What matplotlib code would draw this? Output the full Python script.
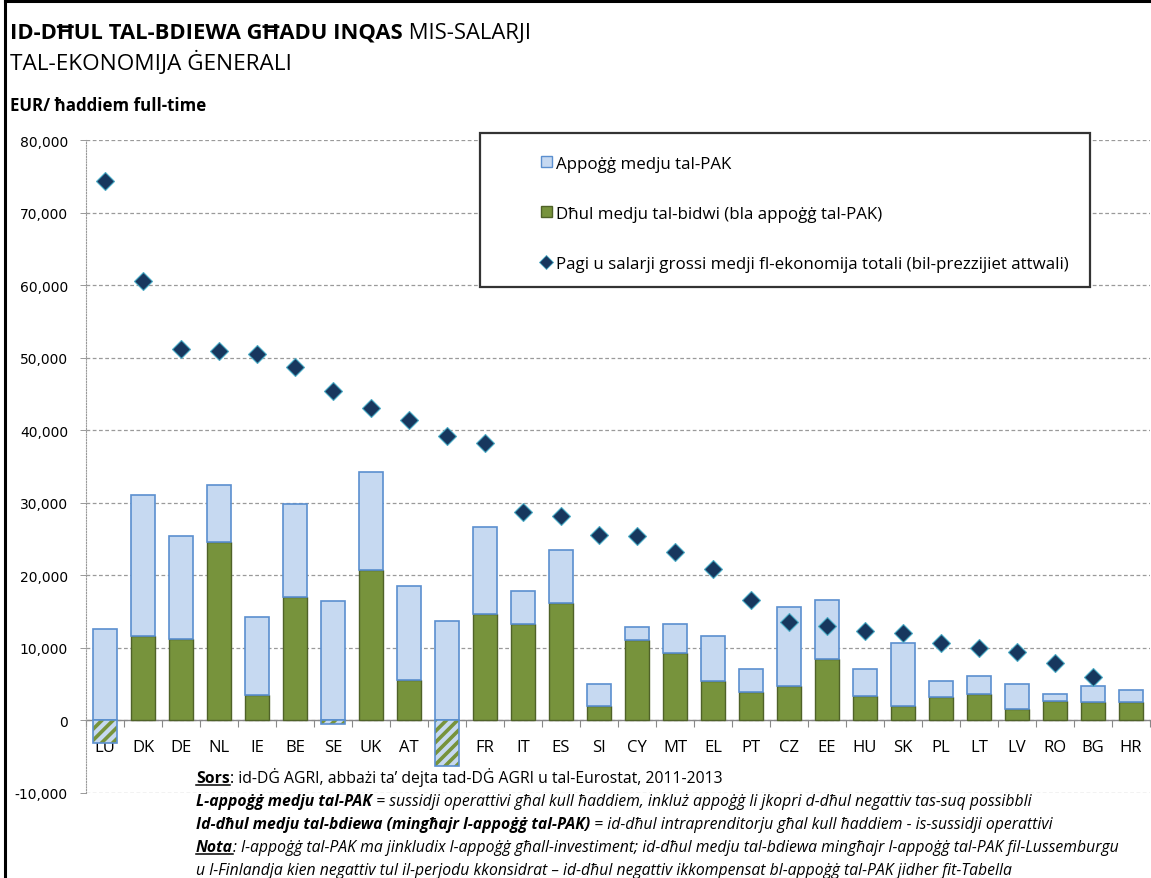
import numpy as np
import matplotlib
matplotlib.use("Agg")
import matplotlib.pyplot as plt
from matplotlib.patches import Patch, Rectangle
from matplotlib.lines import Line2D

countries = ["LU", "DK", "DE", "NL", "IE", "BE", "SE", "UK", "AT", "FI", "FR", "IT", "ES", "SI",
             "CY", "MT", "EL", "PT", "CZ", "EE", "HU", "SK", "PL", "LT", "LV", "RO", "BG", "HR"]

# average farm income without CAP support (EUR / full-time worker)
farm_income = [-3100, 11580, 11220, 24590, 3500, 17070, -500, 20730, 5650, -6300, 14710, 13370,
               16180, 1930, 11120, 9330, 5430, 3910, 4780, 8500, 3310, 2030, 3170, 3590, 1610,
               2720, 2480, 2580]

# average CAP support (EUR / full-time worker)
cap_support = [12640, 19490, 14280, 7940, 10830, 12840, 16460, 13590, 12960, 13650, 12030, 4550,
               7390, 3130, 1750, 4040, 6150, 3220, 10850, 8140, 3720, 8590, 2260, 2610, 3400,
               920, 2210, 1560]

# average gross wages and salaries in the whole economy (None = no value)
wages = [74400, 60570, 51230, 51000, 50550, 48750, 45450, 43060, 41450, 39200, 38320, 28810,
         28260, 25600, 25500, 23210, 20910, 16640, 13560, 12960, 12270, 12040, 10710, 10060,
         9420, 7910, 5930, None]

legend_labels = ["Appoġġ medju tal-PAK",
                 "Dħul medju tal-bidwi (bla appoġġ tal-PAK)",
                 "Pagi u salarji grossi medji fl-ekonomija totali (bil-prezzijiet attwali)"]

BLUE_FILL = "#C6D9F1"
BLUE_EDGE = "#5B8FCF"
GREEN = "#77933C"
GREEN_EDGE = "#4F6228"
NAVY = "#17375E"
CYAN = "#4BACC6"
FONT = ["Open Sans", "DejaVu Sans"]

plt.rcParams["hatch.linewidth"] = 2.6

W, H = 1151, 879
fig = plt.figure(figsize=(W / 100, H / 100), dpi=100)
ax = fig.add_axes([86 / W, 1 - 794 / H, (1150 - 86) / W, (794 - 141.3) / H])

x = np.arange(len(countries))
income = np.array(farm_income, dtype=float)
support = np.array(cap_support, dtype=float)
pos_income = np.clip(income, 0, None)
neg_income = np.clip(income, None, 0)
bw = 0.63

# green: positive farm income
ax.bar(x, pos_income, bw, color=GREEN, edgecolor=GREEN_EDGE, linewidth=1.0, zorder=3)
# blue: CAP support stacked on top
ax.bar(x, support, bw, bottom=pos_income, color=BLUE_FILL, edgecolor=BLUE_EDGE, linewidth=1.2, zorder=3)
# negative income: hatched
neg = income < 0
ax.bar(x[neg], neg_income[neg], bw, color=BLUE_FILL, edgecolor=GREEN, hatch="///", linewidth=0, zorder=3)
ax.bar(x[neg], neg_income[neg], bw, fill=False, edgecolor=BLUE_EDGE, linewidth=1.2, zorder=4)

wx = [i for i, w in enumerate(wages) if w is not None]
wy = [w for w in wages if w is not None]
ax.plot(wx, wy, linestyle="none", marker="D", markersize=9, markerfacecolor=NAVY,
        markeredgecolor=CYAN, markeredgewidth=0.8, zorder=5)

ax.set_xlim(-0.5, len(countries) - 0.5)
ax.set_ylim(-10000, 80000)
ax.set_yticks(np.arange(-10000, 80001, 10000))
ax.set_yticklabels([f"{v:,.0f}" for v in np.arange(-10000, 80001, 10000)], fontsize=10,
                   family="DejaVu Sans")
ax.yaxis.grid(True, color="#9a9a9a", linestyle=(0, (3, 2)), linewidth=0.9, zorder=0)
ax.set_axisbelow(True)
ax.tick_params(axis="y", length=4, width=0.6, color="#888888", pad=9)

ax.spines["bottom"].set_position(("data", 0))
ax.spines["bottom"].set_color("#888888")
ax.spines["bottom"].set_linewidth(1.0)
ax.spines["bottom"].set_zorder(2)
ax.spines["left"].set_color("#999999")
ax.spines["left"].set_linestyle((0, (1, 1.5)))
ax.spines["left"].set_linewidth(0.8)
ax.spines["top"].set_visible(False)
ax.spines["right"].set_visible(False)

ax.set_xticks(x)
ax.set_xticklabels(countries, fontsize=12, family=FONT)
ax.set_xticks(np.arange(-0.5, len(countries), 1), minor=True)
ax.tick_params(axis="x", which="major", length=0, pad=13)
ax.tick_params(axis="x", which="minor", length=5, width=0.8, color="#888888")

# legend
fig.add_artist(Rectangle((480 / W, 1 - 288 / H), 610 / W, 154 / H, transform=fig.transFigure,
                         facecolor="white", edgecolor="#333333", linewidth=1.6, zorder=6))
handles = [Patch(facecolor=BLUE_FILL, edgecolor=BLUE_EDGE, linewidth=1.0),
           Patch(facecolor=GREEN, edgecolor=GREEN_EDGE, linewidth=1.0),
           Line2D([], [], linestyle="none", marker="D", markersize=7, markerfacecolor=NAVY,
                  markeredgecolor=CYAN, markeredgewidth=0.6)]
leg = fig.legend(handles, legend_labels, loc="upper left", bbox_to_anchor=(534 / W, 1 - 150 / H),
                 frameon=False, prop={"family": FONT, "size": 12.2}, handlelength=0.65,
                 handleheight=0.65, handletextpad=0.25, labelspacing=2.0, borderaxespad=0)
leg.set_zorder(7)

# frame of the whole picture
fig.add_artist(Line2D([5 / W, 5 / W], [0, 1 - 2 / H], color="black", linewidth=2.2))
fig.add_artist(Line2D([5 / W, 1], [1 - 2 / H, 1 - 2 / H], color="black", linewidth=2.2))

renderer = fig.canvas.get_renderer()


def text_width(s, **kw):
    t = fig.text(0, 0, "|" + s + "|", **kw)
    t2 = fig.text(0, 0, "||", **kw)
    w = t.get_window_extent(renderer).width - t2.get_window_extent(renderer).width
    t.remove()
    t2.remove()
    return w / W


def put_parts(x0, y0, parts, size):
    xx = x0
    for s, weight, style, under in parts:
        kw = dict(fontsize=size, fontweight=weight, fontstyle=style, family=FONT)
        fig.text(xx, y0, s, va="baseline", ha="left", **kw)
        w = text_width(s, **kw)
        if under:
            fig.add_artist(Line2D([xx, xx + w], [y0 - 3 / H, y0 - 3 / H], color="black", linewidth=1.1))
        xx += w


put_parts(10 / W, 1 - 39 / H, [("ID-DĦUL TAL-BDIEWA GĦADU INQAS", "bold", "normal", False),
                              (" MIS-SALARJI", "normal", "normal", False)], 15.8)
put_parts(10 / W, 1 - 70 / H, [("TAL-EKONOMIJA ĠENERALI", "normal", "normal", False)], 16.2)
put_parts(10 / W, 1 - 111 / H, [("EUR/ ħaddiem full-time", "bold", "normal", False)], 12.2)

notes = [
    [("Sors", "bold", "normal", True),
     (": id-DĠ AGRI, abbażi ta’ dejta tad-DĠ AGRI u tal-Eurostat, 2011-2013", "normal", "normal", False)],
    [("L-appoġġ medju tal-PAK", "bold", "italic", False),
     (" = sussidji operattivi għal kull ħaddiem, inkluż appoġġ li jkopri d-dħul negattiv tas-suq possibbli",
      "normal", "italic", False)],
    [("Id-dħul medju tal-bdiewa (mingħajr l-appoġġ tal-PAK)", "bold", "italic", False),
     (" = id-dħul intraprenditorju għal kull ħaddiem - is-sussidji operattivi", "normal", "italic", False)],
    [("Nota", "bold", "italic", True),
     (": l-appoġġ tal-PAK ma jinkludix l-appoġġ għall-investiment; id-dħul medju tal-bdiewa mingħajr "
      "l-appoġġ tal-PAK fil-Lussemburgu", "normal", "italic", False)],
    [("u l-Finlandja kien negattiv tul il-perjodu kkonsidrat – id-dħul negattiv ikkompensat bl-appoġġ "
      "tal-PAK jidher fit-Tabella", "normal", "italic", False)],
]
for i, parts in enumerate(notes):
    put_parts(196 / W, 1 - (783 + 23 * i) / H, parts, 11.3)

fig.savefig("out.png", dpi=100)
